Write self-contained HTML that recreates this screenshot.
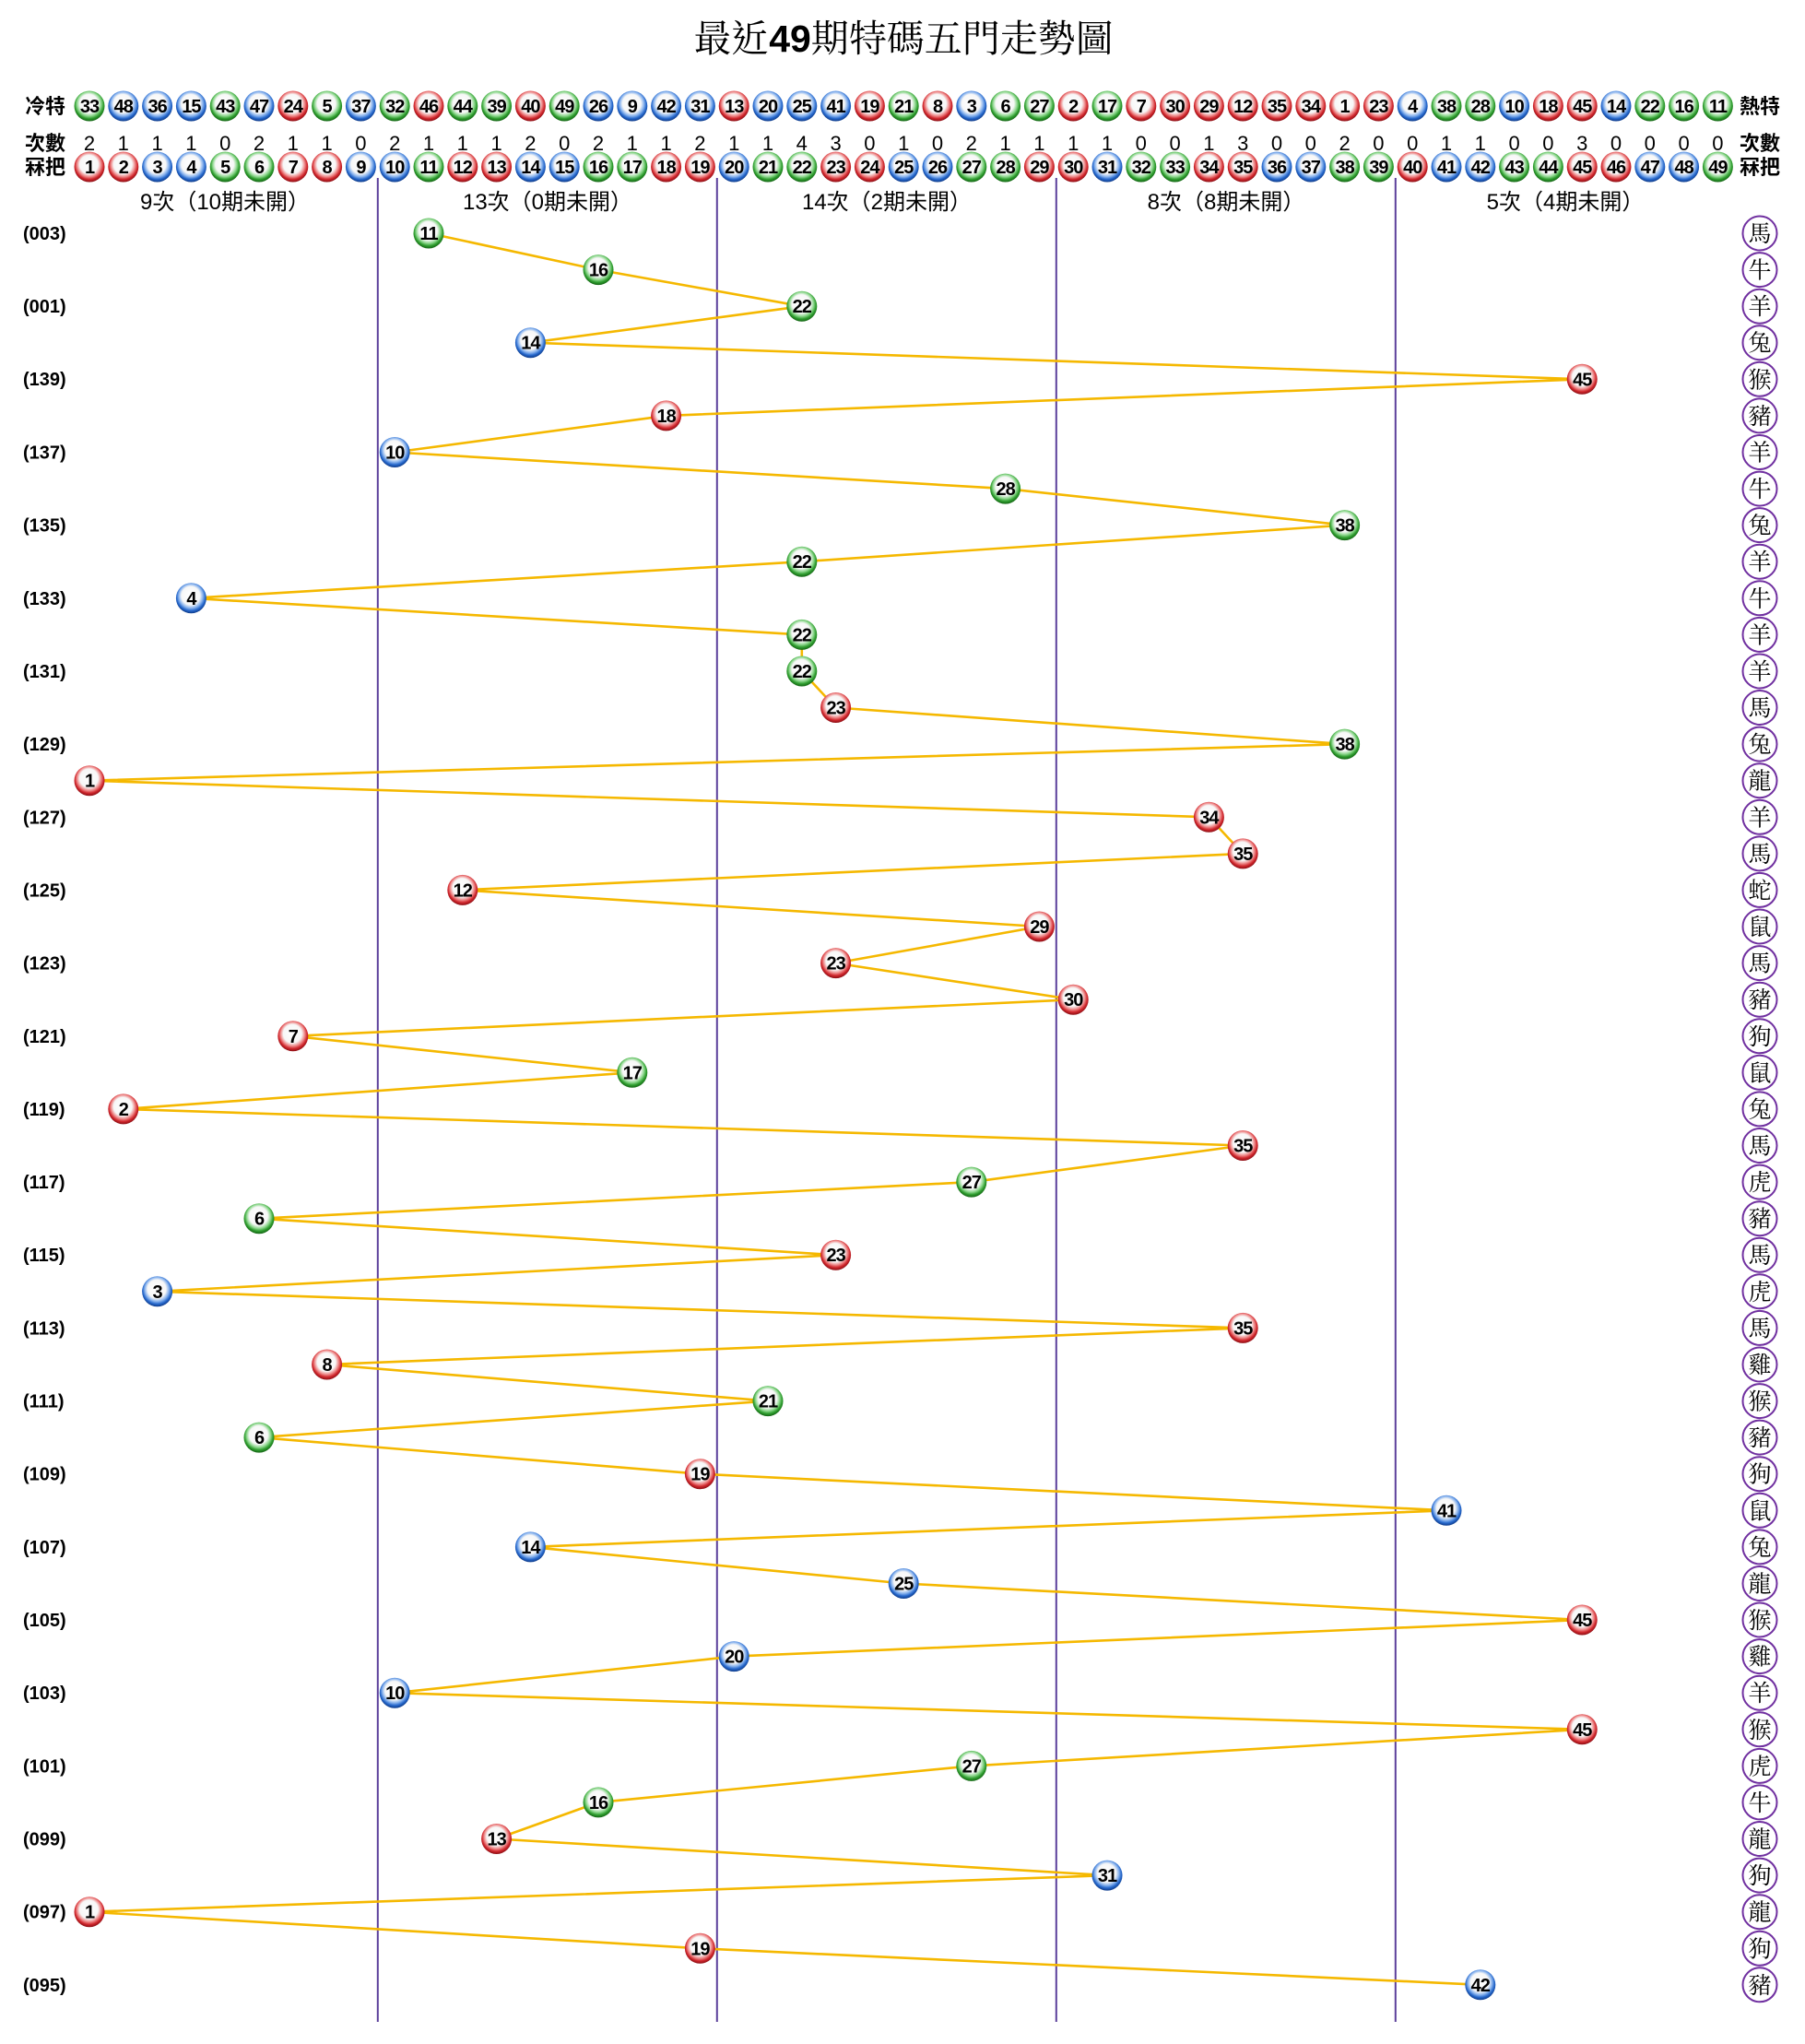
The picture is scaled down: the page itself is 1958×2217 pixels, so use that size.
<!DOCTYPE html>
<html><head><meta charset="utf-8"><style>
html,body{margin:0;padding:0;background:#fff;}
svg{display:block;}
.n{font-family:"Liberation Sans",Arial,sans-serif;font-weight:bold;font-size:20px;text-anchor:middle;fill:#000;letter-spacing:-1px;}
.c{font-family:"Liberation Sans",Arial,sans-serif;font-size:22px;text-anchor:middle;fill:#000;}
.lb{font-family:"Liberation Sans","Noto Sans CJK TC","WenQuanYi Zen Hei",sans-serif;font-weight:bold;font-size:22px;text-anchor:middle;fill:#000;}
.gl{font-family:"Liberation Sans","Noto Sans CJK TC",sans-serif;font-size:24px;text-anchor:middle;fill:#000;}
.rl{font-family:"Liberation Sans",Arial,sans-serif;font-weight:bold;font-size:20px;fill:#000;}
.z circle{fill:#fff;stroke:#7030a0;stroke-width:2;}
.z text{font-family:"Noto Serif CJK TC","Noto Serif CJK SC",serif;font-size:25px;text-anchor:middle;fill:#000;}
.t{font-family:"Noto Serif CJK TC","Noto Serif CJK SC",serif;font-size:41px;text-anchor:middle;fill:#000;}
</style></head><body>
<svg width="1958" height="2217" viewBox="0 0 1958 2217" xmlns="http://www.w3.org/2000/svg">
<defs>
<radialGradient id="gr" cx="50%" cy="45%" r="55%" fx="46%" fy="38%">
<stop offset="0" stop-color="#ffffff"/><stop offset="0.55" stop-color="#f7f7f7"/><stop offset="0.72" stop-color="#ee8a8a"/><stop offset="0.86" stop-color="#d0262c"/><stop offset="1" stop-color="#8a0e14"/>
</radialGradient>
<radialGradient id="gb" cx="50%" cy="45%" r="55%" fx="46%" fy="38%">
<stop offset="0" stop-color="#ffffff"/><stop offset="0.55" stop-color="#f7f7f7"/><stop offset="0.72" stop-color="#8ab4ee"/><stop offset="0.86" stop-color="#2668cc"/><stop offset="1" stop-color="#0e3a88"/>
</radialGradient>
<radialGradient id="gg" cx="50%" cy="45%" r="55%" fx="46%" fy="38%">
<stop offset="0" stop-color="#ffffff"/><stop offset="0.55" stop-color="#f7f7f7"/><stop offset="0.72" stop-color="#8fd88f"/><stop offset="0.86" stop-color="#2f9e2f"/><stop offset="1" stop-color="#146414"/>
</radialGradient>
<circle id="R" r="16.5" fill="url(#gr)"/>
<circle id="B" r="16.5" fill="url(#gb)"/>
<circle id="G" r="16.5" fill="url(#gg)"/>
</defs>

<text class="t" x="980" y="56"><tspan>最近</tspan><tspan font-family="Liberation Sans, sans-serif" font-weight="bold">49</tspan><tspan>期特碼五門走勢圖</tspan></text>

<text class="lb" x="49" y="123">冷特</text>
<text class="lb" x="49" y="163">次數</text>
<text class="lb" x="49" y="189">冧把</text>
<text class="lb" x="1909" y="123">熱特</text>
<text class="lb" x="1909" y="163">次數</text>
<text class="lb" x="1909" y="189">冧把</text>

<!-- cold/hot row -->
<g transform="translate(97 115)"><use href="#G"/><text class="n" y="7">33</text></g>
<g transform="translate(133.8 115)"><use href="#B"/><text class="n" y="7">48</text></g>
<g transform="translate(170.6 115)"><use href="#B"/><text class="n" y="7">36</text></g>
<g transform="translate(207.4 115)"><use href="#B"/><text class="n" y="7">15</text></g>
<g transform="translate(244.2 115)"><use href="#G"/><text class="n" y="7">43</text></g>
<g transform="translate(281 115)"><use href="#B"/><text class="n" y="7">47</text></g>
<g transform="translate(317.8 115)"><use href="#R"/><text class="n" y="7">24</text></g>
<g transform="translate(354.6 115)"><use href="#G"/><text class="n" y="7">5</text></g>
<g transform="translate(391.4 115)"><use href="#B"/><text class="n" y="7">37</text></g>
<g transform="translate(428.2 115)"><use href="#G"/><text class="n" y="7">32</text></g>
<g transform="translate(465 115)"><use href="#R"/><text class="n" y="7">46</text></g>
<g transform="translate(501.8 115)"><use href="#G"/><text class="n" y="7">44</text></g>
<g transform="translate(538.6 115)"><use href="#G"/><text class="n" y="7">39</text></g>
<g transform="translate(575.4 115)"><use href="#R"/><text class="n" y="7">40</text></g>
<g transform="translate(612.2 115)"><use href="#G"/><text class="n" y="7">49</text></g>
<g transform="translate(649 115)"><use href="#B"/><text class="n" y="7">26</text></g>
<g transform="translate(685.8 115)"><use href="#B"/><text class="n" y="7">9</text></g>
<g transform="translate(722.6 115)"><use href="#B"/><text class="n" y="7">42</text></g>
<g transform="translate(759.4 115)"><use href="#B"/><text class="n" y="7">31</text></g>
<g transform="translate(796.2 115)"><use href="#R"/><text class="n" y="7">13</text></g>
<g transform="translate(833 115)"><use href="#B"/><text class="n" y="7">20</text></g>
<g transform="translate(869.8 115)"><use href="#B"/><text class="n" y="7">25</text></g>
<g transform="translate(906.6 115)"><use href="#B"/><text class="n" y="7">41</text></g>
<g transform="translate(943.4 115)"><use href="#R"/><text class="n" y="7">19</text></g>
<g transform="translate(980.2 115)"><use href="#G"/><text class="n" y="7">21</text></g>
<g transform="translate(1017 115)"><use href="#R"/><text class="n" y="7">8</text></g>
<g transform="translate(1053.8 115)"><use href="#B"/><text class="n" y="7">3</text></g>
<g transform="translate(1090.6 115)"><use href="#G"/><text class="n" y="7">6</text></g>
<g transform="translate(1127.4 115)"><use href="#G"/><text class="n" y="7">27</text></g>
<g transform="translate(1164.2 115)"><use href="#R"/><text class="n" y="7">2</text></g>
<g transform="translate(1201 115)"><use href="#G"/><text class="n" y="7">17</text></g>
<g transform="translate(1237.8 115)"><use href="#R"/><text class="n" y="7">7</text></g>
<g transform="translate(1274.6 115)"><use href="#R"/><text class="n" y="7">30</text></g>
<g transform="translate(1311.4 115)"><use href="#R"/><text class="n" y="7">29</text></g>
<g transform="translate(1348.2 115)"><use href="#R"/><text class="n" y="7">12</text></g>
<g transform="translate(1385 115)"><use href="#R"/><text class="n" y="7">35</text></g>
<g transform="translate(1421.8 115)"><use href="#R"/><text class="n" y="7">34</text></g>
<g transform="translate(1458.6 115)"><use href="#R"/><text class="n" y="7">1</text></g>
<g transform="translate(1495.4 115)"><use href="#R"/><text class="n" y="7">23</text></g>
<g transform="translate(1532.2 115)"><use href="#B"/><text class="n" y="7">4</text></g>
<g transform="translate(1569 115)"><use href="#G"/><text class="n" y="7">38</text></g>
<g transform="translate(1605.8 115)"><use href="#G"/><text class="n" y="7">28</text></g>
<g transform="translate(1642.6 115)"><use href="#B"/><text class="n" y="7">10</text></g>
<g transform="translate(1679.4 115)"><use href="#R"/><text class="n" y="7">18</text></g>
<g transform="translate(1716.2 115)"><use href="#R"/><text class="n" y="7">45</text></g>
<g transform="translate(1753 115)"><use href="#B"/><text class="n" y="7">14</text></g>
<g transform="translate(1789.8 115)"><use href="#G"/><text class="n" y="7">22</text></g>
<g transform="translate(1826.6 115)"><use href="#G"/><text class="n" y="7">16</text></g>
<g transform="translate(1863.4 115)"><use href="#G"/><text class="n" y="7">11</text></g>

<!-- counts row -->
<g class="c">
<text x="97" y="163">2</text><text x="133.8" y="163">1</text><text x="170.6" y="163">1</text><text x="207.4" y="163">1</text><text x="244.2" y="163">0</text><text x="281" y="163">2</text><text x="317.8" y="163">1</text><text x="354.6" y="163">1</text><text x="391.4" y="163">0</text><text x="428.2" y="163">2</text>
<text x="465" y="163">1</text><text x="501.8" y="163">1</text><text x="538.6" y="163">1</text><text x="575.4" y="163">2</text><text x="612.2" y="163">0</text><text x="649" y="163">2</text><text x="685.8" y="163">1</text><text x="722.6" y="163">1</text><text x="759.4" y="163">2</text><text x="796.2" y="163">1</text>
<text x="833" y="163">1</text><text x="869.8" y="163">4</text><text x="906.6" y="163">3</text><text x="943.4" y="163">0</text><text x="980.2" y="163">1</text><text x="1017" y="163">0</text><text x="1053.8" y="163">2</text><text x="1090.6" y="163">1</text><text x="1127.4" y="163">1</text><text x="1164.2" y="163">1</text>
<text x="1201" y="163">1</text><text x="1237.8" y="163">0</text><text x="1274.6" y="163">0</text><text x="1311.4" y="163">1</text><text x="1348.2" y="163">3</text><text x="1385" y="163">0</text><text x="1421.8" y="163">0</text><text x="1458.6" y="163">2</text><text x="1495.4" y="163">0</text><text x="1532.2" y="163">0</text>
<text x="1569" y="163">1</text><text x="1605.8" y="163">1</text><text x="1642.6" y="163">0</text><text x="1679.4" y="163">0</text><text x="1716.2" y="163">3</text><text x="1753" y="163">0</text><text x="1789.8" y="163">0</text><text x="1826.6" y="163">0</text><text x="1863.4" y="163">0</text>
</g>

<!-- number row -->
<g transform="translate(97 181)"><use href="#R"/><text class="n" y="7">1</text></g>
<g transform="translate(133.8 181)"><use href="#R"/><text class="n" y="7">2</text></g>
<g transform="translate(170.6 181)"><use href="#B"/><text class="n" y="7">3</text></g>
<g transform="translate(207.4 181)"><use href="#B"/><text class="n" y="7">4</text></g>
<g transform="translate(244.2 181)"><use href="#G"/><text class="n" y="7">5</text></g>
<g transform="translate(281 181)"><use href="#G"/><text class="n" y="7">6</text></g>
<g transform="translate(317.8 181)"><use href="#R"/><text class="n" y="7">7</text></g>
<g transform="translate(354.6 181)"><use href="#R"/><text class="n" y="7">8</text></g>
<g transform="translate(391.4 181)"><use href="#B"/><text class="n" y="7">9</text></g>
<g transform="translate(428.2 181)"><use href="#B"/><text class="n" y="7">10</text></g>
<g transform="translate(465 181)"><use href="#G"/><text class="n" y="7">11</text></g>
<g transform="translate(501.8 181)"><use href="#R"/><text class="n" y="7">12</text></g>
<g transform="translate(538.6 181)"><use href="#R"/><text class="n" y="7">13</text></g>
<g transform="translate(575.4 181)"><use href="#B"/><text class="n" y="7">14</text></g>
<g transform="translate(612.2 181)"><use href="#B"/><text class="n" y="7">15</text></g>
<g transform="translate(649 181)"><use href="#G"/><text class="n" y="7">16</text></g>
<g transform="translate(685.8 181)"><use href="#G"/><text class="n" y="7">17</text></g>
<g transform="translate(722.6 181)"><use href="#R"/><text class="n" y="7">18</text></g>
<g transform="translate(759.4 181)"><use href="#R"/><text class="n" y="7">19</text></g>
<g transform="translate(796.2 181)"><use href="#B"/><text class="n" y="7">20</text></g>
<g transform="translate(833 181)"><use href="#G"/><text class="n" y="7">21</text></g>
<g transform="translate(869.8 181)"><use href="#G"/><text class="n" y="7">22</text></g>
<g transform="translate(906.6 181)"><use href="#R"/><text class="n" y="7">23</text></g>
<g transform="translate(943.4 181)"><use href="#R"/><text class="n" y="7">24</text></g>
<g transform="translate(980.2 181)"><use href="#B"/><text class="n" y="7">25</text></g>
<g transform="translate(1017 181)"><use href="#B"/><text class="n" y="7">26</text></g>
<g transform="translate(1053.8 181)"><use href="#G"/><text class="n" y="7">27</text></g>
<g transform="translate(1090.6 181)"><use href="#G"/><text class="n" y="7">28</text></g>
<g transform="translate(1127.4 181)"><use href="#R"/><text class="n" y="7">29</text></g>
<g transform="translate(1164.2 181)"><use href="#R"/><text class="n" y="7">30</text></g>
<g transform="translate(1201 181)"><use href="#B"/><text class="n" y="7">31</text></g>
<g transform="translate(1237.8 181)"><use href="#G"/><text class="n" y="7">32</text></g>
<g transform="translate(1274.6 181)"><use href="#G"/><text class="n" y="7">33</text></g>
<g transform="translate(1311.4 181)"><use href="#R"/><text class="n" y="7">34</text></g>
<g transform="translate(1348.2 181)"><use href="#R"/><text class="n" y="7">35</text></g>
<g transform="translate(1385 181)"><use href="#B"/><text class="n" y="7">36</text></g>
<g transform="translate(1421.8 181)"><use href="#B"/><text class="n" y="7">37</text></g>
<g transform="translate(1458.6 181)"><use href="#G"/><text class="n" y="7">38</text></g>
<g transform="translate(1495.4 181)"><use href="#G"/><text class="n" y="7">39</text></g>
<g transform="translate(1532.2 181)"><use href="#R"/><text class="n" y="7">40</text></g>
<g transform="translate(1569 181)"><use href="#B"/><text class="n" y="7">41</text></g>
<g transform="translate(1605.8 181)"><use href="#B"/><text class="n" y="7">42</text></g>
<g transform="translate(1642.6 181)"><use href="#G"/><text class="n" y="7">43</text></g>
<g transform="translate(1679.4 181)"><use href="#G"/><text class="n" y="7">44</text></g>
<g transform="translate(1716.2 181)"><use href="#R"/><text class="n" y="7">45</text></g>
<g transform="translate(1753 181)"><use href="#R"/><text class="n" y="7">46</text></g>
<g transform="translate(1789.8 181)"><use href="#B"/><text class="n" y="7">47</text></g>
<g transform="translate(1826.6 181)"><use href="#B"/><text class="n" y="7">48</text></g>
<g transform="translate(1863.4 181)"><use href="#G"/><text class="n" y="7">49</text></g>

<!-- group labels -->
<text class="gl" x="244" y="227">9次（10期未開）</text>
<text class="gl" x="594" y="227">13次（0期未開）</text>
<text class="gl" x="962" y="227">14次（2期未開）</text>
<text class="gl" x="1330" y="227">8次（8期未開）</text>
<text class="gl" x="1698" y="227">5次（4期未開）</text>

<!-- dividers -->
<g stroke="#5b3f9b" stroke-width="2">
<line x1="409.8" y1="193" x2="409.8" y2="2193"/>
<line x1="777.8" y1="193" x2="777.8" y2="2193"/>
<line x1="1145.8" y1="193" x2="1145.8" y2="2193"/>
<line x1="1513.8" y1="193" x2="1513.8" y2="2193"/>
</g>

<!-- row labels -->
<g class="rl">
<text x="25" y="260">(003)</text>
<text x="25" y="339">(001)</text>
<text x="25" y="418">(139)</text>
<text x="25" y="497.5">(137)</text>
<text x="25" y="576.5">(135)</text>
<text x="25" y="656">(133)</text>
<text x="25" y="735">(131)</text>
<text x="25" y="814">(129)</text>
<text x="25" y="893.5">(127)</text>
<text x="25" y="972.5">(125)</text>
<text x="25" y="1051.5">(123)</text>
<text x="25" y="1131">(121)</text>
<text x="25" y="1210">(119)</text>
<text x="25" y="1289">(117)</text>
<text x="25" y="1368">(115)</text>
<text x="25" y="1447.5">(113)</text>
<text x="25" y="1526.5">(111)</text>
<text x="25" y="1605.5">(109)</text>
<text x="25" y="1685">(107)</text>
<text x="25" y="1764">(105)</text>
<text x="25" y="1843">(103)</text>
<text x="25" y="1922.5">(101)</text>
<text x="25" y="2001.5">(099)</text>
<text x="25" y="2080.5">(097)</text>
<text x="25" y="2160">(095)</text>
</g>

<!-- trend line -->
<polyline fill="none" stroke="#f5b800" stroke-width="2.6" stroke-linejoin="round" points="465,253 649,292.6 869.8,332.2 575.4,371.7 1716.2,411.3 722.6,450.9 428.2,490.5 1090.6,530.1 1458.6,569.6 869.8,609.2 207.4,648.8 869.8,688.4 869.8,728 906.6,767.5 1458.6,807.1 97,846.7 1311.4,886.3 1348.2,925.9 501.8,965.4 1127.4,1005 906.6,1044.6 1164.2,1084.2 317.8,1123.8 685.8,1163.3 133.8,1202.9 1348.2,1242.5 1053.8,1282.1 281,1321.7 906.6,1361.2 170.6,1400.8 1348.2,1440.4 354.6,1480 833,1519.6 281,1559.1 759.4,1598.7 1569,1638.3 575.4,1677.9 980.2,1717.5 1716.2,1757 796.2,1796.6 428.2,1836.2 1716.2,1875.8 1053.8,1915.4 649,1954.9 538.6,1994.5 1201,2034.1 97,2073.7 759.4,2113.3 1605.8,2152.8"/>

<!-- data balls -->
<g transform="translate(465 253)"><use href="#G"/><text class="n" y="7">11</text></g>
<g transform="translate(649 292.6)"><use href="#G"/><text class="n" y="7">16</text></g>
<g transform="translate(869.8 332.2)"><use href="#G"/><text class="n" y="7">22</text></g>
<g transform="translate(575.4 371.7)"><use href="#B"/><text class="n" y="7">14</text></g>
<g transform="translate(1716.2 411.3)"><use href="#R"/><text class="n" y="7">45</text></g>
<g transform="translate(722.6 450.9)"><use href="#R"/><text class="n" y="7">18</text></g>
<g transform="translate(428.2 490.5)"><use href="#B"/><text class="n" y="7">10</text></g>
<g transform="translate(1090.6 530.1)"><use href="#G"/><text class="n" y="7">28</text></g>
<g transform="translate(1458.6 569.6)"><use href="#G"/><text class="n" y="7">38</text></g>
<g transform="translate(869.8 609.2)"><use href="#G"/><text class="n" y="7">22</text></g>
<g transform="translate(207.4 648.8)"><use href="#B"/><text class="n" y="7">4</text></g>
<g transform="translate(869.8 688.4)"><use href="#G"/><text class="n" y="7">22</text></g>
<g transform="translate(869.8 728)"><use href="#G"/><text class="n" y="7">22</text></g>
<g transform="translate(906.6 767.5)"><use href="#R"/><text class="n" y="7">23</text></g>
<g transform="translate(1458.6 807.1)"><use href="#G"/><text class="n" y="7">38</text></g>
<g transform="translate(97 846.7)"><use href="#R"/><text class="n" y="7">1</text></g>
<g transform="translate(1311.4 886.3)"><use href="#R"/><text class="n" y="7">34</text></g>
<g transform="translate(1348.2 925.9)"><use href="#R"/><text class="n" y="7">35</text></g>
<g transform="translate(501.8 965.4)"><use href="#R"/><text class="n" y="7">12</text></g>
<g transform="translate(1127.4 1005)"><use href="#R"/><text class="n" y="7">29</text></g>
<g transform="translate(906.6 1044.6)"><use href="#R"/><text class="n" y="7">23</text></g>
<g transform="translate(1164.2 1084.2)"><use href="#R"/><text class="n" y="7">30</text></g>
<g transform="translate(317.8 1123.8)"><use href="#R"/><text class="n" y="7">7</text></g>
<g transform="translate(685.8 1163.3)"><use href="#G"/><text class="n" y="7">17</text></g>
<g transform="translate(133.8 1202.9)"><use href="#R"/><text class="n" y="7">2</text></g>
<g transform="translate(1348.2 1242.5)"><use href="#R"/><text class="n" y="7">35</text></g>
<g transform="translate(1053.8 1282.1)"><use href="#G"/><text class="n" y="7">27</text></g>
<g transform="translate(281 1321.7)"><use href="#G"/><text class="n" y="7">6</text></g>
<g transform="translate(906.6 1361.2)"><use href="#R"/><text class="n" y="7">23</text></g>
<g transform="translate(170.6 1400.8)"><use href="#B"/><text class="n" y="7">3</text></g>
<g transform="translate(1348.2 1440.4)"><use href="#R"/><text class="n" y="7">35</text></g>
<g transform="translate(354.6 1480)"><use href="#R"/><text class="n" y="7">8</text></g>
<g transform="translate(833 1519.6)"><use href="#G"/><text class="n" y="7">21</text></g>
<g transform="translate(281 1559.1)"><use href="#G"/><text class="n" y="7">6</text></g>
<g transform="translate(759.4 1598.7)"><use href="#R"/><text class="n" y="7">19</text></g>
<g transform="translate(1569 1638.3)"><use href="#B"/><text class="n" y="7">41</text></g>
<g transform="translate(575.4 1677.9)"><use href="#B"/><text class="n" y="7">14</text></g>
<g transform="translate(980.2 1717.5)"><use href="#B"/><text class="n" y="7">25</text></g>
<g transform="translate(1716.2 1757)"><use href="#R"/><text class="n" y="7">45</text></g>
<g transform="translate(796.2 1796.6)"><use href="#B"/><text class="n" y="7">20</text></g>
<g transform="translate(428.2 1836.2)"><use href="#B"/><text class="n" y="7">10</text></g>
<g transform="translate(1716.2 1875.8)"><use href="#R"/><text class="n" y="7">45</text></g>
<g transform="translate(1053.8 1915.4)"><use href="#G"/><text class="n" y="7">27</text></g>
<g transform="translate(649 1954.9)"><use href="#G"/><text class="n" y="7">16</text></g>
<g transform="translate(538.6 1994.5)"><use href="#R"/><text class="n" y="7">13</text></g>
<g transform="translate(1201 2034.1)"><use href="#B"/><text class="n" y="7">31</text></g>
<g transform="translate(97 2073.7)"><use href="#R"/><text class="n" y="7">1</text></g>
<g transform="translate(759.4 2113.3)"><use href="#R"/><text class="n" y="7">19</text></g>
<g transform="translate(1605.8 2152.8)"><use href="#B"/><text class="n" y="7">42</text></g>

<!-- zodiac column -->
<g class="z">
<g transform="translate(1909 253)"><circle r="18.5"/><text y="9">馬</text></g>
<g transform="translate(1909 292.6)"><circle r="18.5"/><text y="9">牛</text></g>
<g transform="translate(1909 332.2)"><circle r="18.5"/><text y="9">羊</text></g>
<g transform="translate(1909 371.7)"><circle r="18.5"/><text y="9">兔</text></g>
<g transform="translate(1909 411.3)"><circle r="18.5"/><text y="9">猴</text></g>
<g transform="translate(1909 450.9)"><circle r="18.5"/><text y="9">豬</text></g>
<g transform="translate(1909 490.5)"><circle r="18.5"/><text y="9">羊</text></g>
<g transform="translate(1909 530.1)"><circle r="18.5"/><text y="9">牛</text></g>
<g transform="translate(1909 569.6)"><circle r="18.5"/><text y="9">兔</text></g>
<g transform="translate(1909 609.2)"><circle r="18.5"/><text y="9">羊</text></g>
<g transform="translate(1909 648.8)"><circle r="18.5"/><text y="9">牛</text></g>
<g transform="translate(1909 688.4)"><circle r="18.5"/><text y="9">羊</text></g>
<g transform="translate(1909 728)"><circle r="18.5"/><text y="9">羊</text></g>
<g transform="translate(1909 767.5)"><circle r="18.5"/><text y="9">馬</text></g>
<g transform="translate(1909 807.1)"><circle r="18.5"/><text y="9">兔</text></g>
<g transform="translate(1909 846.7)"><circle r="18.5"/><text y="9">龍</text></g>
<g transform="translate(1909 886.3)"><circle r="18.5"/><text y="9">羊</text></g>
<g transform="translate(1909 925.9)"><circle r="18.5"/><text y="9">馬</text></g>
<g transform="translate(1909 965.4)"><circle r="18.5"/><text y="9">蛇</text></g>
<g transform="translate(1909 1005)"><circle r="18.5"/><text y="9">鼠</text></g>
<g transform="translate(1909 1044.6)"><circle r="18.5"/><text y="9">馬</text></g>
<g transform="translate(1909 1084.2)"><circle r="18.5"/><text y="9">豬</text></g>
<g transform="translate(1909 1123.8)"><circle r="18.5"/><text y="9">狗</text></g>
<g transform="translate(1909 1163.3)"><circle r="18.5"/><text y="9">鼠</text></g>
<g transform="translate(1909 1202.9)"><circle r="18.5"/><text y="9">兔</text></g>
<g transform="translate(1909 1242.5)"><circle r="18.5"/><text y="9">馬</text></g>
<g transform="translate(1909 1282.1)"><circle r="18.5"/><text y="9">虎</text></g>
<g transform="translate(1909 1321.7)"><circle r="18.5"/><text y="9">豬</text></g>
<g transform="translate(1909 1361.2)"><circle r="18.5"/><text y="9">馬</text></g>
<g transform="translate(1909 1400.8)"><circle r="18.5"/><text y="9">虎</text></g>
<g transform="translate(1909 1440.4)"><circle r="18.5"/><text y="9">馬</text></g>
<g transform="translate(1909 1480)"><circle r="18.5"/><text y="9">雞</text></g>
<g transform="translate(1909 1519.6)"><circle r="18.5"/><text y="9">猴</text></g>
<g transform="translate(1909 1559.1)"><circle r="18.5"/><text y="9">豬</text></g>
<g transform="translate(1909 1598.7)"><circle r="18.5"/><text y="9">狗</text></g>
<g transform="translate(1909 1638.3)"><circle r="18.5"/><text y="9">鼠</text></g>
<g transform="translate(1909 1677.9)"><circle r="18.5"/><text y="9">兔</text></g>
<g transform="translate(1909 1717.5)"><circle r="18.5"/><text y="9">龍</text></g>
<g transform="translate(1909 1757)"><circle r="18.5"/><text y="9">猴</text></g>
<g transform="translate(1909 1796.6)"><circle r="18.5"/><text y="9">雞</text></g>
<g transform="translate(1909 1836.2)"><circle r="18.5"/><text y="9">羊</text></g>
<g transform="translate(1909 1875.8)"><circle r="18.5"/><text y="9">猴</text></g>
<g transform="translate(1909 1915.4)"><circle r="18.5"/><text y="9">虎</text></g>
<g transform="translate(1909 1954.9)"><circle r="18.5"/><text y="9">牛</text></g>
<g transform="translate(1909 1994.5)"><circle r="18.5"/><text y="9">龍</text></g>
<g transform="translate(1909 2034.1)"><circle r="18.5"/><text y="9">狗</text></g>
<g transform="translate(1909 2073.7)"><circle r="18.5"/><text y="9">龍</text></g>
<g transform="translate(1909 2113.3)"><circle r="18.5"/><text y="9">狗</text></g>
<g transform="translate(1909 2152.8)"><circle r="18.5"/><text y="9">豬</text></g>
</g>
</svg>
</body></html>
